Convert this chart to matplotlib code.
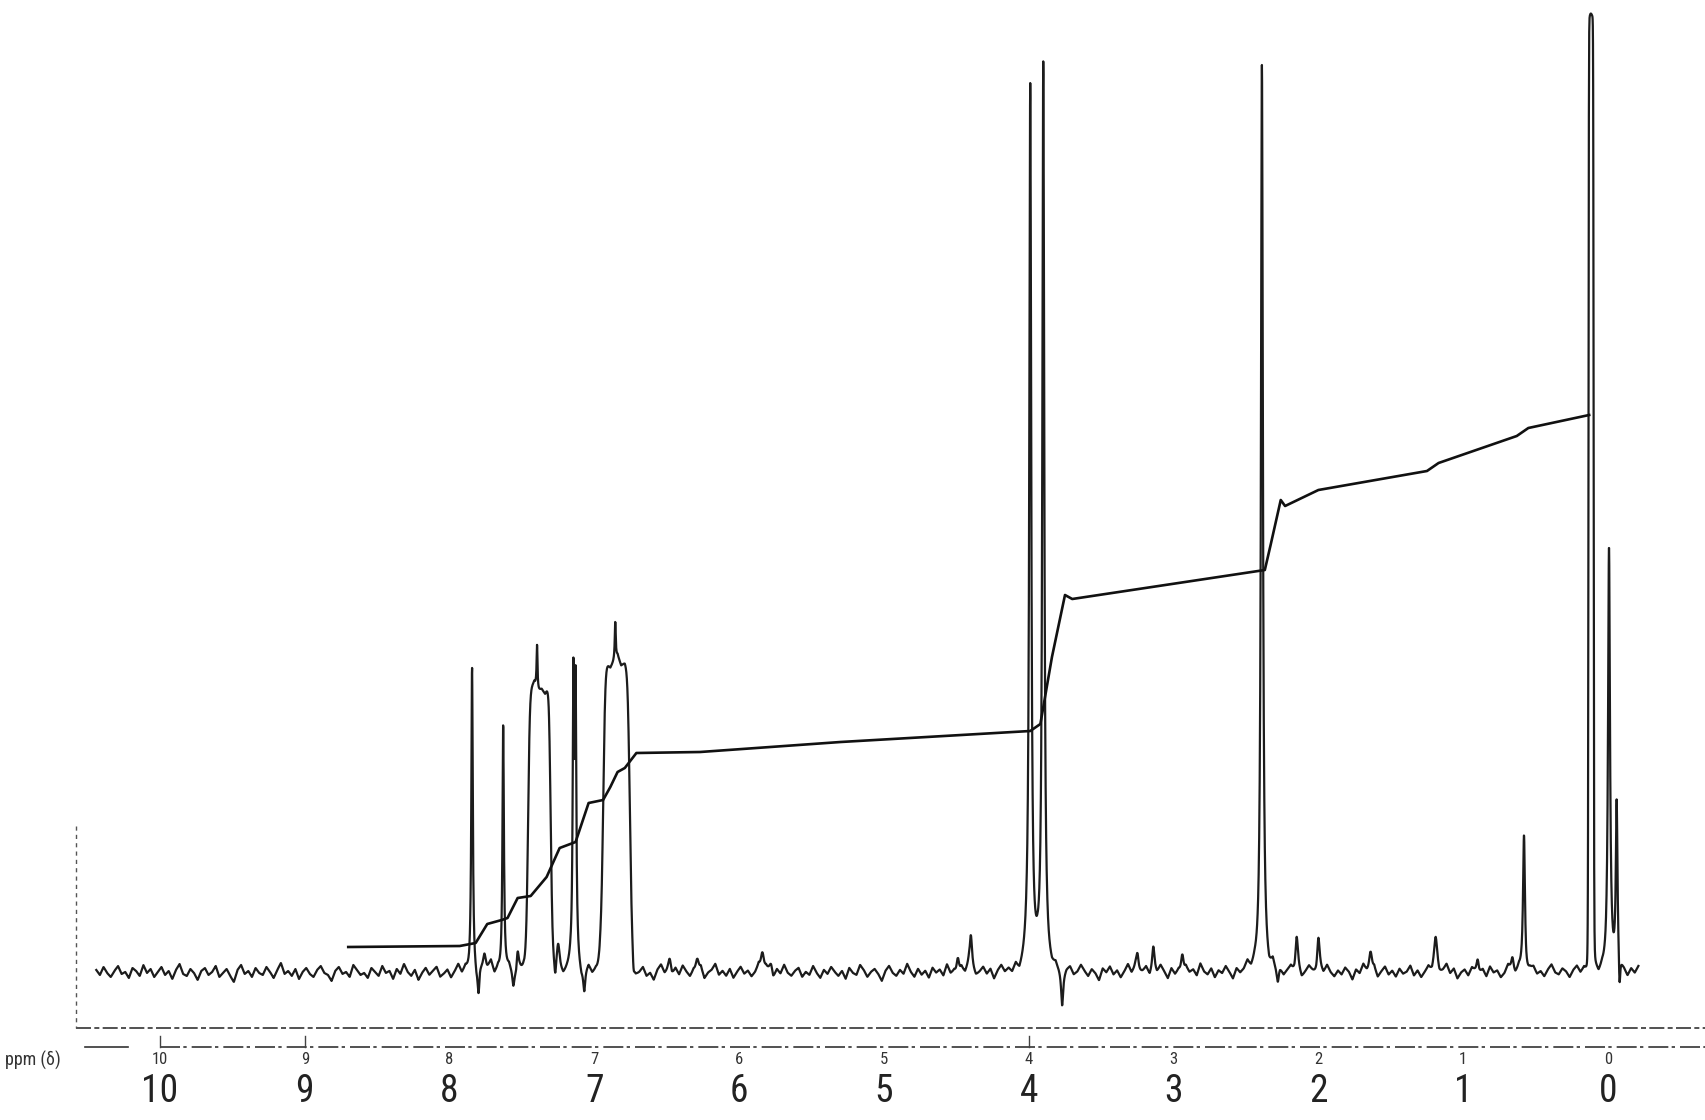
import numpy as np
import matplotlib
matplotlib.use("Agg")
import matplotlib.pyplot as plt
from matplotlib import font_manager

# ---------------- data ----------------
# sharp resonances: position (ppm), height (chart units above baseline), half-width (ppm)
peak_ppm = [7.845, 7.630, 7.145, 7.130, 7.396, 6.856,
            3.990, 3.900, 2.390, 0.580, -0.007, -0.060, 0.120,
            7.800, 7.560, 7.270, 7.070, 6.730, 3.770, 2.280, -0.080,
            7.760, 7.530, 7.250, 6.960, 6.480, 6.290, 5.840, 5.780,
            4.490, 4.400, 3.250, 3.140, 2.940, 2.150, 2.000, 1.640,
            1.190, 0.900, 0.660]
peak_height = [306, 251, 280, 270, 45, 38,
               885, 902, 904, 141, 418, 170, 18,
               -28, -15, -19, -22, -15, -32, -14, -35,
               18, 25, 25, 12, 15, 15, 22, 10,
               20, 33, 20, 24, 22, 34, 34, 24,
               33, 14, 14]
peak_hwhm = [0.006, 0.006, 0.006, 0.006, 0.004, 0.004,
             0.008, 0.008, 0.008, 0.008, 0.008, 0.007, 0.02,
             0.008, 0.008, 0.008, 0.008, 0.008, 0.008, 0.008, 0.006,
             0.012, 0.010, 0.012, 0.015, 0.012, 0.012, 0.012, 0.012,
             0.010, 0.010, 0.012, 0.010, 0.010, 0.010, 0.010, 0.012,
             0.015, 0.010, 0.010]

# flat-topped (unresolved / off-scale) multiplets
plateau_ppm = [7.380, 6.847, 0.117]
plateau_halfwidth = [0.079, 0.093, 0.018]
plateau_height = [283, 308, 940]

# baseline noise of the trace, sampled every 0.025 ppm starting at 10.44 ppm
noise_start_ppm = 10.44
noise_step_ppm = 0.025
baseline_noise = [
    -2, -7, 1, -5, -9, -3, 2, -6, -4, -10, 0, -3, -8, 3, -5, -1, -9, -4, 1, -7,
    -3, -11, -2, 4, -6, -8, -1, -5, -12, -3, 0, -7, -4, 2, -9, -5, -1, -8, -14, -2,
    3, -6, -3, -9, 0, -5, -7, 1, -4, -10, -2, 5, -6, -3, -8, -1, -11, -4, 0, -6,
    -9, -2, 2, -5, -7, -13, -3, 1, -6, -4, -9, 3, -2, -7, -5, -10, 0, -4, -8, 2,
    -5, -3, -11, -1, -6, 4, -4, -8, -2, -12, -5, 0, -7, -3, 1, -9, -6, -2, -10, -4,
    3, -6, -1, -8, -4, -11, 0, -5, -3, 6, -7, -2, -9, -5, 1, -6, -13, -3, -1, -7,
    -4, 2, -8, -5, -10, -1, -6, 3, -3, -9, -4, 0, -7, -2, -11, -5, 2, -6, -3, -8,
    0, -5, -9, -2, 4, -6, -3, -10, -1, -7, -4, 1, -8, -5, -12, -2, 3, -6, -4, -9,
    -1, -7, 2, -4, -9, -3, -6, 0, -11, -5, -2, 4, -7, -3, -8, -1, -10, -4, 1, -6,
    -3, -9, -5, 2, -7, -1, -4, -12, -2, -6, 3, -5, -8, -3, 0, -9, -4, -7, 2, -5,
    -10, -2, -6, 1, -4, -8, -3, -11, 0, -5, -7, 3, -2, -9, -4, -1, -6, -13, -3, 2,
    -5, -8, -2, -6, 4, -4, -9, -1, -7, -3, -10, 0, -5, -2, -8, 3, -6, -4, -11, -1,
    -6, 2, -3, -9, -5, 0, -7, -2, -12, -4, 1, -6, -3, -8, -1, -10, -4, 2, -7, -5,
    -2, -9, 3, -4, -7, -1, -6, -11, -3, 0, -8, -5, 2, -4, -9, -2, -6, -13, -1, -5,
    1, -7, -3, -10, -4, 3, -6, -2, -8, -5, 0, -9, -3, -6, 2, -4, -11, -1, -7, -3,
    -9, 0, -5, -2, -8, 4, -4, -7, -1, -10, -3, -6, 1, -5, -12, -2, -7, -4, 3, -6,
    -3, -8, -1, -5, -10, 2, -6, -3, -9, -4, 0, -7, -2, -11, -5, 1, -4, -8, -2, -6,
    2, -5, -9, -3, -7, 0, -4, -12, -2, -6, 3, -5, -8, -1, -10, -4, 1, -7, -3, -9,
    -1, -6, -4, 2, -8, -3, -10, -5, 0, -7, -2, -9, -4, 3, -6, -1, -11, -5, -2, -8,
    0, -4, -7, -2, -9, 1, -5, -3, -10, -6, 2, -4, -8, -1, -6, -12, -3, 0, -7, -4,
    -9, -2, 3, -5, -7, -1, -4, -10, -3, 1, -6, -2, -8, -5, 0, -9, -3, -6, 2, -5,
    -8, -1, -4, -10, -2, -6, 1]

# integral trace
integral_ppm = [8.70, 7.93, 7.82, 7.74, 7.64, 7.60, 7.53, 7.44, 7.33, 7.24,
                7.13, 7.04, 6.94, 6.89, 6.84, 6.79, 6.71, 6.27, 5.30, 3.99,
                3.92, 3.84, 3.75, 3.70, 2.37, 2.33, 2.26, 2.23, 2.00, 1.25,
                1.17, 0.63, 0.55, 0.13]
integral_value = [21, 22, 25, 44, 48, 50, 70, 72, 91, 120,
                  126, 165, 168, 181, 196, 200, 215, 216, 226, 237,
                  244, 311, 373, 369, 398, 423, 468, 462, 478, 497,
                  505, 532, 540, 553]

# chemical-shift scale
scale_ppm = [10, 9, 8, 7, 6, 5, 4, 3, 2, 1, 0]
scale_labels = ["10", "9", "8", "7", "6", "5", "4", "3", "2", "1", "0"]
scale_tick_ppm = [10, 9, 4]
axis_title = "ppm (δ)"


# ---------------- font choice (narrow, light digits) ----------------
def pick_font():
    fl = font_manager.fontManager.ttflist
    names = {f.name for f in fl}
    for nm in ["Liberation Sans Narrow", "Roboto Condensed", "Open Sans Condensed",
               "DejaVu Sans Condensed", "Noto Sans Condensed"]:
        if nm in names:
            return dict(family=nm)
    for fam in ["Roboto", "Noto Sans", "Open Sans", "DejaVu Sans"]:
        for f in fl:
            if f.name == fam and f.stretch in ("condensed", "semi-condensed",
                                               "extra-condensed"):
                return dict(family=fam, stretch=f.stretch)
    for f in fl:
        if f.name == "Roboto" and f.weight in (300, "light"):
            return dict(family="Roboto", weight="light")
    return dict(family="Liberation Sans")


font_kw = pick_font()

# ---------------- drawing ----------------
fig = plt.figure(figsize=(17.05, 11.2), dpi=100)
fig.patch.set_facecolor("white")
ax = fig.add_axes([0, 0, 1, 1])
ax.set_xlim(11.105, -0.670)
ax.set_ylim(-152, 968)
ax.axis("off")

noise = np.array(baseline_noise, dtype=float)
noise_ppm = noise_start_ppm - noise_step_ppm * np.arange(len(noise))
x = np.linspace(noise_ppm[0], noise_ppm[-1], 9000)
y = np.interp(x, noise_ppm[::-1], noise[::-1])
for p, h, g in zip(peak_ppm, peak_height, peak_hwhm):
    y = y + h / (1.0 + ((x - p) / g) ** 2)
for c, w, h in zip(plateau_ppm, plateau_halfwidth, plateau_height):
    y = y + h / (1.0 + ((x - c) / w) ** 12)

ax.plot(x, y, color="#1c1c1c", lw=1.6, solid_joinstyle="round")
ax.plot(integral_ppm, integral_value, color="#111111", lw=1.9)

# scale lines
x_left1 = 10.58
x_left2 = 10.52
ax.plot([x_left1, -0.67], [-60, -60], color="#333333", lw=1.2,
        linestyle=(0, (9, 2, 3, 2)))
ax.plot([x_left2, 10.22], [-79, -79], color="#333333", lw=1.2)
ax.plot([10.0, -0.67], [-79, -79], color="#333333", lw=1.2,
        linestyle=(0, (12, 2, 2, 3)))
ax.plot([x_left1, x_left1], [142, -60], color="#555555", lw=1.0,
        linestyle=(0, (3, 3)))
for t in scale_tick_ppm:
    ax.plot([t, t], [-79, -68], color="#444444", lw=1.0)

for p, lab in zip(scale_ppm, scale_labels):
    ax.text(p, -92, lab, ha="center", va="center", fontsize=12,
            color="#333333", **font_kw)
    ax.text(p, -123, lab, ha="center", va="center", fontsize=27,
            color="#222222", **font_kw)
ax.text(11.07, -92, axis_title, ha="left", va="center", fontsize=13,
        color="#333333", **font_kw)

fig.savefig("out.png", dpi=100, facecolor="white")
